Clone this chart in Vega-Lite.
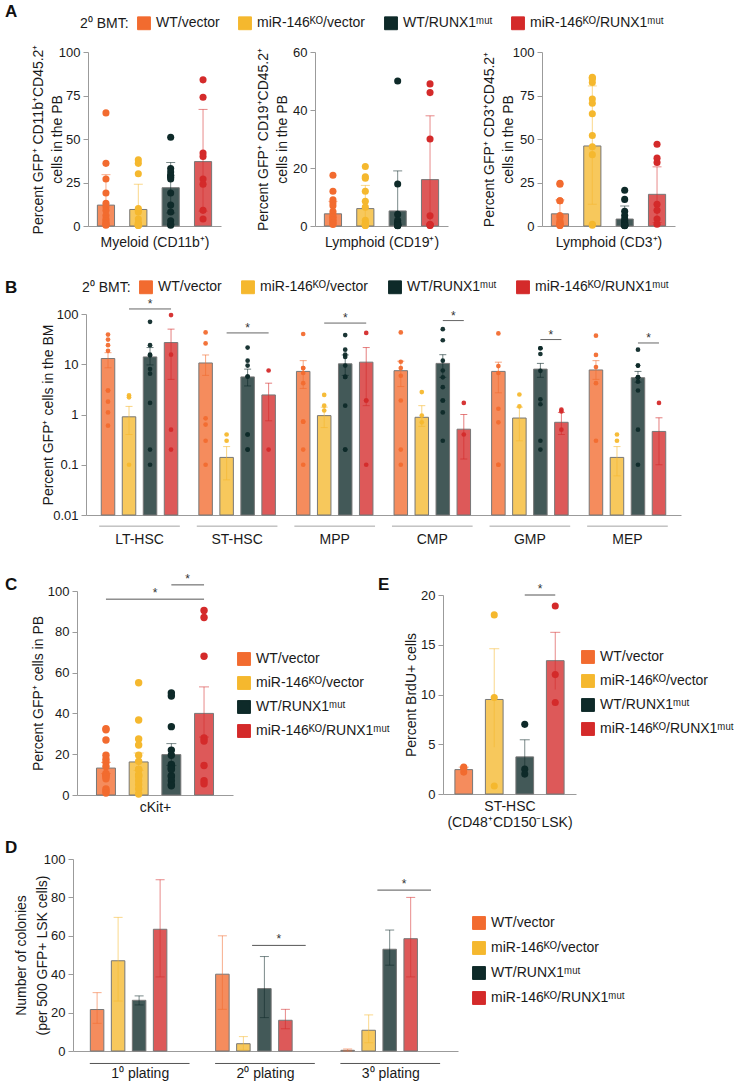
{
"$schema":"https://vega.github.io/schema/vega-lite/v6.json",
"background":"white",
"padding":{"left":5,"top":3,"right":5,"bottom":8},
"config":{
 "font":"Liberation Sans",
 "view":{"stroke":null},
 "axis":{"domainColor":"#9b9b9b","tickColor":"#9b9b9b","labelColor":"#1a1a1a","titleColor":"#1a1a1a","labelFontSize":13,"titleFontSize":14,"titleFontWeight":"normal","grid":false,"tickSize":5,"labelPadding":3,"titleLineHeight":19},
 "legend":{"labelFontSize":14,"labelColor":"#1a1a1a","titleFontSize":14,"titleColor":"#1a1a1a","titleFontWeight":"normal","symbolType":"square","symbolSize":165,"symbolStrokeColor":"#707070","symbolStrokeWidth":1,"symbolOpacity":1,"padding":0,"labelOffset":5,"rowPadding":7},
 "title":{"fontSize":17,"fontWeight":"bold","anchor":"start","frame":"group","color":"#111111"}
},
"datasets":{
 "aBars":[
  {"p":"M","g":"WV","m":12,"lo":0,"hi":29.5},{"p":"M","g":"KV","m":9.5,"lo":0,"hi":24},{"p":"M","g":"WR","m":22,"lo":7.5,"hi":36.5},{"p":"M","g":"KR","m":37,"lo":8.5,"hi":67},
  {"p":"B","g":"WV","m":4.2,"lo":0,"hi":8.5},{"p":"B","g":"KV","m":6,"lo":0,"hi":14},{"p":"B","g":"WR","m":5.2,"lo":0,"hi":19},{"p":"B","g":"KR","m":16,"lo":0,"hi":38},
  {"p":"T","g":"WV","m":7,"lo":0,"hi":15},{"p":"T","g":"KV","m":46,"lo":12.5,"hi":80.5},{"p":"T","g":"WR","m":4,"lo":0,"hi":11.5},{"p":"T","g":"KR","m":18.2,"lo":2,"hi":34}
 ],
 "aPts":[
  {"p":"M","g":"WV","v":65},{"p":"M","g":"WV","v":36},{"p":"M","g":"WV","v":27},{"p":"M","g":"WV","v":19},{"p":"M","g":"WV","v":13},{"p":"M","g":"WV","v":11},{"p":"M","g":"WV","v":9},{"p":"M","g":"WV","v":6},{"p":"M","g":"WV","v":4},{"p":"M","g":"WV","v":3},{"p":"M","g":"WV","v":2},{"p":"M","g":"WV","v":1},{"p":"M","g":"WV","v":1},{"p":"M","g":"WV","v":0.5},
  {"p":"M","g":"KV","v":38},{"p":"M","g":"KV","v":36},{"p":"M","g":"KV","v":30},{"p":"M","g":"KV","v":10},{"p":"M","g":"KV","v":9},{"p":"M","g":"KV","v":8},{"p":"M","g":"KV","v":4},{"p":"M","g":"KV","v":2},{"p":"M","g":"KV","v":1},{"p":"M","g":"KV","v":1},{"p":"M","g":"KV","v":0.5},{"p":"M","g":"KV","v":0.5},{"p":"M","g":"KV","v":0.3},
  {"p":"M","g":"WR","v":51},{"p":"M","g":"WR","v":33},{"p":"M","g":"WR","v":31},{"p":"M","g":"WR","v":29},{"p":"M","g":"WR","v":29},{"p":"M","g":"WR","v":28},{"p":"M","g":"WR","v":27},{"p":"M","g":"WR","v":19},{"p":"M","g":"WR","v":12},{"p":"M","g":"WR","v":8},{"p":"M","g":"WR","v":3},{"p":"M","g":"WR","v":1},{"p":"M","g":"WR","v":0.5},
  {"p":"M","g":"KR","v":84},{"p":"M","g":"KR","v":74},{"p":"M","g":"KR","v":42},{"p":"M","g":"KR","v":40},{"p":"M","g":"KR","v":27},{"p":"M","g":"KR","v":24},{"p":"M","g":"KR","v":9},{"p":"M","g":"KR","v":4},
  {"p":"B","g":"WV","v":17.5},{"p":"B","g":"WV","v":12},{"p":"B","g":"WV","v":9},{"p":"B","g":"WV","v":8},{"p":"B","g":"WV","v":7},{"p":"B","g":"WV","v":5},{"p":"B","g":"WV","v":4},{"p":"B","g":"WV","v":3},{"p":"B","g":"WV","v":3},{"p":"B","g":"WV","v":2},{"p":"B","g":"WV","v":2},{"p":"B","g":"WV","v":1},{"p":"B","g":"WV","v":1},{"p":"B","g":"WV","v":0.5},
  {"p":"B","g":"KV","v":20.5},{"p":"B","g":"KV","v":17},{"p":"B","g":"KV","v":16.5},{"p":"B","g":"KV","v":12},{"p":"B","g":"KV","v":8.5},{"p":"B","g":"KV","v":6.5},{"p":"B","g":"KV","v":2},{"p":"B","g":"KV","v":1},{"p":"B","g":"KV","v":0.5},{"p":"B","g":"KV","v":0.5},{"p":"B","g":"KV","v":0.3},{"p":"B","g":"KV","v":0.3},{"p":"B","g":"KV","v":0.2},
  {"p":"B","g":"WR","v":50},{"p":"B","g":"WR","v":14.5},{"p":"B","g":"WR","v":4},{"p":"B","g":"WR","v":2},{"p":"B","g":"WR","v":1},{"p":"B","g":"WR","v":1},{"p":"B","g":"WR","v":0.5},{"p":"B","g":"WR","v":0.5},{"p":"B","g":"WR","v":0.3},{"p":"B","g":"WR","v":0.2},{"p":"B","g":"WR","v":0.2},{"p":"B","g":"WR","v":0.1},
  {"p":"B","g":"KR","v":49},{"p":"B","g":"KR","v":46},{"p":"B","g":"KR","v":30},{"p":"B","g":"KR","v":3.5},{"p":"B","g":"KR","v":0.5},{"p":"B","g":"KR","v":0.5},{"p":"B","g":"KR","v":0.3},{"p":"B","g":"KR","v":0.2},
  {"p":"T","g":"WV","v":24.5},{"p":"T","g":"WV","v":24},{"p":"T","g":"WV","v":14.5},{"p":"T","g":"WV","v":14.5},{"p":"T","g":"WV","v":6},{"p":"T","g":"WV","v":5},{"p":"T","g":"WV","v":3},{"p":"T","g":"WV","v":2},{"p":"T","g":"WV","v":1.5},{"p":"T","g":"WV","v":1},{"p":"T","g":"WV","v":0.5},{"p":"T","g":"WV","v":0.5},{"p":"T","g":"WV","v":0.3},
  {"p":"T","g":"KV","v":85.5},{"p":"T","g":"KV","v":85},{"p":"T","g":"KV","v":84.5},{"p":"T","g":"KV","v":82.5},{"p":"T","g":"KV","v":73},{"p":"T","g":"KV","v":70.5},{"p":"T","g":"KV","v":64.5},{"p":"T","g":"KV","v":52},{"p":"T","g":"KV","v":45.5},{"p":"T","g":"KV","v":41},{"p":"T","g":"KV","v":1},{"p":"T","g":"KV","v":0.5},
  {"p":"T","g":"WR","v":20.5},{"p":"T","g":"WR","v":15.3},{"p":"T","g":"WR","v":8.5},{"p":"T","g":"WR","v":6},{"p":"T","g":"WR","v":4},{"p":"T","g":"WR","v":3},{"p":"T","g":"WR","v":2},{"p":"T","g":"WR","v":1.5},{"p":"T","g":"WR","v":1},{"p":"T","g":"WR","v":0.5},{"p":"T","g":"WR","v":0.5},{"p":"T","g":"WR","v":0.3},{"p":"T","g":"WR","v":0.2},
  {"p":"T","g":"KR","v":47},{"p":"T","g":"KR","v":39},{"p":"T","g":"KR","v":36.5},{"p":"T","g":"KR","v":12.5},{"p":"T","g":"KR","v":9},{"p":"T","g":"KR","v":4},{"p":"T","g":"KR","v":1}
 ],
 "bBars":[
  {"c":"LT-HSC","g":"WV","m":13,"lo":8.5,"hi":17},{"c":"LT-HSC","g":"KV","m":0.9,"lo":0.4,"hi":1.45},{"c":"LT-HSC","g":"WR","m":14,"lo":9.7,"hi":21.5},{"c":"LT-HSC","g":"KR","m":27,"lo":5,"hi":50},
  {"c":"ST-HSC","g":"WV","m":10.6,"lo":6,"hi":15.3},{"c":"ST-HSC","g":"KV","m":0.14,"lo":0.05,"hi":0.23},{"c":"ST-HSC","g":"WR","m":5.6,"lo":3.7,"hi":8},{"c":"ST-HSC","g":"KR","m":2.45,"lo":0.75,"hi":4.2},
  {"c":"MPP","g":"WV","m":7.2,"lo":3.3,"hi":11.8},{"c":"MPP","g":"KV","m":0.95,"lo":0.55,"hi":1.4},{"c":"MPP","g":"WR","m":10.2,"lo":6,"hi":15.3},{"c":"MPP","g":"KR","m":11,"lo":1.5,"hi":21.5},
  {"c":"CMP","g":"WV","m":7.45,"lo":3.6,"hi":11.5},{"c":"CMP","g":"KV","m":0.88,"lo":0.58,"hi":1.5},{"c":"CMP","g":"WR","m":10.4,"lo":5.5,"hi":15.5},{"c":"CMP","g":"KR","m":0.51,"lo":0.13,"hi":1.0},
  {"c":"GMP","g":"WV","m":7.2,"lo":2.7,"hi":11},{"c":"GMP","g":"KV","m":0.85,"lo":0.3,"hi":1.4},{"c":"GMP","g":"WR","m":8,"lo":5.5,"hi":10.4},{"c":"GMP","g":"KR","m":0.7,"lo":0.4,"hi":1.1},
  {"c":"MEP","g":"WV","m":7.7,"lo":5,"hi":11.8},{"c":"MEP","g":"KV","m":0.14,"lo":0.06,"hi":0.23},{"c":"MEP","g":"WR","m":5.4,"lo":4.4,"hi":7.2},{"c":"MEP","g":"KR","m":0.46,"lo":0.1,"hi":0.86}
 ],
 "bPts":[
  {"c":"LT-HSC","g":"WV","v":39},{"c":"LT-HSC","g":"WV","v":31},{"c":"LT-HSC","g":"WV","v":24},{"c":"LT-HSC","g":"WV","v":18.5},{"c":"LT-HSC","g":"WV","v":3},{"c":"LT-HSC","g":"WV","v":3},{"c":"LT-HSC","g":"WV","v":1.8},{"c":"LT-HSC","g":"WV","v":1.1},{"c":"LT-HSC","g":"WV","v":0.6},
  {"c":"LT-HSC","g":"KV","v":2.4},{"c":"LT-HSC","g":"KV","v":2.2},{"c":"LT-HSC","g":"KV","v":0.1},
  {"c":"LT-HSC","g":"WR","v":70},{"c":"LT-HSC","g":"WR","v":24},{"c":"LT-HSC","g":"WR","v":15.5},{"c":"LT-HSC","g":"WR","v":15},{"c":"LT-HSC","g":"WR","v":8},{"c":"LT-HSC","g":"WR","v":6.5},{"c":"LT-HSC","g":"WR","v":1.7},{"c":"LT-HSC","g":"WR","v":0.2},{"c":"LT-HSC","g":"WR","v":0.1},
  {"c":"LT-HSC","g":"KR","v":95},{"c":"LT-HSC","g":"KR","v":15.5},{"c":"LT-HSC","g":"KR","v":0.5},{"c":"LT-HSC","g":"KR","v":0.2},
  {"c":"ST-HSC","g":"WV","v":43},{"c":"ST-HSC","g":"WV","v":26},{"c":"ST-HSC","g":"WV","v":0.84},{"c":"ST-HSC","g":"WV","v":0.63},{"c":"ST-HSC","g":"WV","v":0.3},{"c":"ST-HSC","g":"WV","v":0.1},
  {"c":"ST-HSC","g":"KV","v":0.4},{"c":"ST-HSC","g":"KV","v":0.3},
  {"c":"ST-HSC","g":"WR","v":21.5},{"c":"ST-HSC","g":"WR","v":11.8},{"c":"ST-HSC","g":"WR","v":9.4},{"c":"ST-HSC","g":"WR","v":5.7},{"c":"ST-HSC","g":"WR","v":5.7},{"c":"ST-HSC","g":"WR","v":0.4},{"c":"ST-HSC","g":"WR","v":0.4},{"c":"ST-HSC","g":"WR","v":0.2},{"c":"ST-HSC","g":"WR","v":0.2},
  {"c":"ST-HSC","g":"KR","v":7.5},{"c":"ST-HSC","g":"KR","v":0.2},
  {"c":"MPP","g":"WV","v":40},{"c":"MPP","g":"WV","v":8.4},{"c":"MPP","g":"WV","v":8.4},{"c":"MPP","g":"WV","v":6.7},{"c":"MPP","g":"WV","v":4.2},{"c":"MPP","g":"WV","v":0.72},{"c":"MPP","g":"WV","v":0.72},{"c":"MPP","g":"WV","v":0.2},{"c":"MPP","g":"WV","v":0.1},
  {"c":"MPP","g":"KV","v":2.45},{"c":"MPP","g":"KV","v":1.5},{"c":"MPP","g":"KV","v":1.2},
  {"c":"MPP","g":"WR","v":38},{"c":"MPP","g":"WR","v":19.5},{"c":"MPP","g":"WR","v":15.5},{"c":"MPP","g":"WR","v":14},{"c":"MPP","g":"WR","v":9.4},{"c":"MPP","g":"WR","v":5.6},{"c":"MPP","g":"WR","v":5.6},{"c":"MPP","g":"WR","v":1.5},{"c":"MPP","g":"WR","v":0.2},{"c":"MPP","g":"WR","v":0.2},
  {"c":"MPP","g":"KR","v":42},{"c":"MPP","g":"KR","v":1.9},{"c":"MPP","g":"KR","v":1.9},{"c":"MPP","g":"KR","v":0.1},
  {"c":"CMP","g":"WV","v":43},{"c":"CMP","g":"WV","v":11.2},{"c":"CMP","g":"WV","v":8.4},{"c":"CMP","g":"WV","v":5.9},{"c":"CMP","g":"WV","v":1.9},{"c":"CMP","g":"WV","v":0.2},{"c":"CMP","g":"WV","v":0.1},
  {"c":"CMP","g":"KV","v":2.8},{"c":"CMP","g":"KV","v":0.95},{"c":"CMP","g":"KV","v":0.7},
  {"c":"CMP","g":"WR","v":50},{"c":"CMP","g":"WR","v":30},{"c":"CMP","g":"WR","v":11.8},{"c":"CMP","g":"WR","v":7.5},{"c":"CMP","g":"WR","v":5.5},{"c":"CMP","g":"WR","v":3.5},{"c":"CMP","g":"WR","v":1.9},{"c":"CMP","g":"WR","v":1.9},{"c":"CMP","g":"WR","v":1.1},{"c":"CMP","g":"WR","v":0.3},
  {"c":"CMP","g":"KR","v":1.7},{"c":"CMP","g":"KR","v":0.4},
  {"c":"GMP","g":"WV","v":41},{"c":"GMP","g":"WV","v":9.2},{"c":"GMP","g":"WV","v":6.7},{"c":"GMP","g":"WV","v":1.3},{"c":"GMP","g":"WV","v":0.7},{"c":"GMP","g":"WV","v":0.1},{"c":"GMP","g":"WV","v":0.1},
  {"c":"GMP","g":"KV","v":2.5},{"c":"GMP","g":"KV","v":1.45},
  {"c":"GMP","g":"WR","v":20.8},{"c":"GMP","g":"WR","v":20.8},{"c":"GMP","g":"WR","v":16},{"c":"GMP","g":"WR","v":7.4},{"c":"GMP","g":"WR","v":2},{"c":"GMP","g":"WR","v":1.6},{"c":"GMP","g":"WR","v":0.3},{"c":"GMP","g":"WR","v":0.2},
  {"c":"GMP","g":"KR","v":1.25},{"c":"GMP","g":"KR","v":1.15},{"c":"GMP","g":"KR","v":0.5},
  {"c":"MEP","g":"WV","v":37},{"c":"MEP","g":"WV","v":15.3},{"c":"MEP","g":"WV","v":8.8},{"c":"MEP","g":"WV","v":4.2},{"c":"MEP","g":"WV","v":0.3},
  {"c":"MEP","g":"KV","v":0.4},{"c":"MEP","g":"KV","v":0.3},
  {"c":"MEP","g":"WR","v":19.5},{"c":"MEP","g":"WR","v":9.4},{"c":"MEP","g":"WR","v":9.4},{"c":"MEP","g":"WR","v":5.5},{"c":"MEP","g":"WR","v":5.5},{"c":"MEP","g":"WR","v":5.5},{"c":"MEP","g":"WR","v":4.5},{"c":"MEP","g":"WR","v":3},{"c":"MEP","g":"WR","v":0.5},{"c":"MEP","g":"WR","v":0.1},
  {"c":"MEP","g":"KR","v":1.7}
 ],
 "bSig":[
  {"c":"LT-HSC","t":"KV","v":126},{"c":"ST-HSC","t":"KV","v":42},{"c":"MPP","t":"KV","v":66},
  {"c":"CMP","t":"WR","v":74},{"c":"GMP","t":"WR","v":31},{"c":"MEP","t":"WR","v":26.5}
 ],
 "cBars":[
  {"g":"WV","m":13.2,"lo":10.5,"hi":16},{"g":"KV","m":16.2,"lo":12,"hi":20.6},{"g":"WR","m":19.8,"lo":14.5,"hi":25.2},{"g":"KR","m":40,"lo":28.4,"hi":53}
 ],
 "cPts":[
  {"g":"WV","v":32.5},{"g":"WV","v":32},{"g":"WV","v":27},{"g":"WV","v":19.5},{"g":"WV","v":17.5},{"g":"WV","v":16},{"g":"WV","v":14},{"g":"WV","v":10.5},{"g":"WV","v":10},{"g":"WV","v":9.5},{"g":"WV","v":9},{"g":"WV","v":8},{"g":"WV","v":3},{"g":"WV","v":2},{"g":"WV","v":1},
  {"g":"KV","v":55},{"g":"KV","v":36.8},{"g":"KV","v":27.5},{"g":"KV","v":24.5},{"g":"KV","v":19.5},{"g":"KV","v":16.5},{"g":"KV","v":12.5},{"g":"KV","v":12.5},{"g":"KV","v":10},{"g":"KV","v":9.5},{"g":"KV","v":9},{"g":"KV","v":7},{"g":"KV","v":5},{"g":"KV","v":3},{"g":"KV","v":0.5},
  {"g":"WR","v":50},{"g":"WR","v":48.5},{"g":"WR","v":33.5},{"g":"WR","v":22},{"g":"WR","v":19.5},{"g":"WR","v":15},{"g":"WR","v":14},{"g":"WR","v":13},{"g":"WR","v":12.5},{"g":"WR","v":9.5},{"g":"WR","v":9},{"g":"WR","v":7},{"g":"WR","v":5},{"g":"WR","v":4.5},
  {"g":"KR","v":90.5},{"g":"KR","v":87},{"g":"KR","v":68},{"g":"KR","v":28},{"g":"KR","v":26.5},{"g":"KR","v":14.5},{"g":"KR","v":7},{"g":"KR","v":5.5}
 ],
 "cSig":[{"a":"WV","b":"KR","v":96},{"a":"WR","b":"KR","v":103}],
 "eBars":[
  {"g":"WV","m":2.45,"lo":2.2,"hi":2.7},{"g":"KV","m":9.5,"lo":4.7,"hi":14.6},{"g":"WR","m":3.73,"lo":2,"hi":5.45},{"g":"KR","m":13.4,"lo":10.5,"hi":16.25}
 ],
 "ePts":[
  {"g":"WV","v":2.2},{"g":"WV","v":2.7},{"g":"WV","v":2.6},
  {"g":"KV","v":18},{"g":"KV","v":9.7},{"g":"KV","v":0.8},
  {"g":"WR","v":7},{"g":"WR","v":2.5},{"g":"WR","v":2},
  {"g":"KR","v":18.9},{"g":"KR","v":12},{"g":"KR","v":9.2}
 ],
 "eSig":[{"a":"WR","b":"KR","v":20}],
 "dBars":[
  {"pl":"1⁰ plating","g":"WV","m":21.6,"lo":14.4,"hi":30.4},{"pl":"1⁰ plating","g":"KV","m":47,"lo":26,"hi":69.6},{"pl":"1⁰ plating","g":"WR","m":26.4,"lo":24,"hi":28.7},{"pl":"1⁰ plating","g":"KR","m":63.4,"lo":38.6,"hi":89.2},
  {"pl":"2⁰ plating","g":"WV","m":40,"lo":21.7,"hi":60},{"pl":"2⁰ plating","g":"KV","m":3.8,"lo":0.5,"hi":7.5},{"pl":"2⁰ plating","g":"WR","m":32.5,"lo":17.4,"hi":49.2},{"pl":"2⁰ plating","g":"KR","m":16,"lo":11.6,"hi":21.7},
  {"pl":"3⁰ plating","g":"WV","m":0.35,"lo":0,"hi":1},{"pl":"3⁰ plating","g":"KV","m":10.8,"lo":4.3,"hi":18.8},{"pl":"3⁰ plating","g":"WR","m":53,"lo":44.7,"hi":63},{"pl":"3⁰ plating","g":"KR","m":58.5,"lo":38.6,"hi":80}
 ],
 "dSig":[{"pl":"2⁰ plating","v":55},{"pl":"3⁰ plating","v":83.8}],
 "none":[]
},
"columns":3,
"align":{"row":"each","column":"none"},
"bounds":"flush",
"spacing":{"row":30,"column":94},
"resolve":{"scale":{"color":"independent","x":"independent","y":"independent"},"legend":{"color":"independent"}},
"concat":[
   {
    "width":133,"height":174,
    "title":{"text":"A","dx":-83,"dy":9},
    "layer":[
     {"data":{"name":"aBars"},"transform":[{"filter":"datum.p=='M'"}],
      "mark":{"type":"bar","fillOpacity":0.78,"stroke":"#777777","strokeWidth":1},
      "encoding":{
       "x":{"field":"g","type":"nominal","scale":{"domain":["WV","KV","WR","KR"],"paddingInner":0.47,"paddingOuter":0.29},"axis":{"labels":false,"ticks":false,"title":"Myeloid (CD11b⁺)","titlePadding":9}},
       "y":{"field":"m","type":"quantitative","scale":{"domain":[0,100]},"axis":{"values":[0,25,50,75,100],"title":["Percent GFP⁺ CD11b⁺CD45.2⁺","cells in the PB"],"titleX":-43}},
       "color":{"field":"g","type":"nominal","scale":{"domain":["WV","KV","WR","KR"],"range":["#F26B2F","#F5B82E","#0E2A29","#D42A2A"]},
        "legend":{"orient":"none","direction":"horizontal","legendX":-8,"legendY":-36,"title":"2⁰ BMT:","titleOrient":"left","titlePadding":8,"columnPadding":16,
         "labelExpr":"datum.label=='WV'?'WT/vector':datum.label=='KV'?'miR-146ᴷᴼ/vector':datum.label=='WR'?'WT/RUNX1ᵐᵘᵗ':'miR-146ᴷᴼ/RUNX1ᵐᵘᵗ'"}}
      }},
     {"data":{"name":"aBars"},"transform":[{"filter":"datum.p=='M'"}],"mark":{"type":"rule","strokeWidth":1,"opacity":0.55},
      "encoding":{"x":{"field":"g","type":"nominal"},"y":{"field":"lo","type":"quantitative"},"y2":{"field":"hi"},"color":{"field":"g","type":"nominal"}}},
     {"data":{"name":"aBars"},"transform":[{"filter":"datum.p=='M'"}],"mark":{"type":"tick","thickness":1,"size":9,"opacity":0.55},
      "encoding":{"x":{"field":"g","type":"nominal"},"y":{"field":"hi","type":"quantitative"},"color":{"field":"g","type":"nominal"}}},
     {"data":{"name":"aBars"},"transform":[{"filter":"datum.p=='M'"}],"mark":{"type":"tick","thickness":1,"size":9,"opacity":0.55},
      "encoding":{"x":{"field":"g","type":"nominal"},"y":{"field":"lo","type":"quantitative"},"color":{"field":"g","type":"nominal"}}},
     {"data":{"name":"aPts"},"transform":[{"filter":"datum.p=='M'"}],"mark":{"type":"circle","size":50,"opacity":1},
      "encoding":{"x":{"field":"g","type":"nominal"},"y":{"field":"v","type":"quantitative"},"color":{"field":"g","type":"nominal"}}}
    ]
   },
   {
    "width":133,"height":174,
    "layer":[
     {"data":{"name":"aBars"},"transform":[{"filter":"datum.p=='B'"}],
      "mark":{"type":"bar","fillOpacity":0.78,"stroke":"#777777","strokeWidth":1},
      "encoding":{
       "x":{"field":"g","type":"nominal","scale":{"domain":["WV","KV","WR","KR"],"paddingInner":0.47,"paddingOuter":0.29},"axis":{"labels":false,"ticks":false,"title":"Lymphoid (CD19⁺)","titlePadding":9}},
       "y":{"field":"m","type":"quantitative","scale":{"domain":[0,60]},"axis":{"values":[0,20,40,60],"title":["Percent GFP⁺ CD19⁺CD45.2⁺","cells in the PB"],"titleX":-45}},
       "color":{"field":"g","type":"nominal","scale":{"domain":["WV","KV","WR","KR"],"range":["#F26B2F","#F5B82E","#0E2A29","#D42A2A"]},"legend":null}
      }},
     {"data":{"name":"aBars"},"transform":[{"filter":"datum.p=='B'"}],"mark":{"type":"rule","strokeWidth":1,"opacity":0.55},
      "encoding":{"x":{"field":"g","type":"nominal"},"y":{"field":"lo","type":"quantitative"},"y2":{"field":"hi"},"color":{"field":"g","type":"nominal","legend":null}}},
     {"data":{"name":"aBars"},"transform":[{"filter":"datum.p=='B'"}],"mark":{"type":"tick","thickness":1,"size":9,"opacity":0.55},
      "encoding":{"x":{"field":"g","type":"nominal"},"y":{"field":"hi","type":"quantitative"},"color":{"field":"g","type":"nominal","legend":null}}},
     {"data":{"name":"aPts"},"transform":[{"filter":"datum.p=='B'"}],"mark":{"type":"circle","size":50,"opacity":1},
      "encoding":{"x":{"field":"g","type":"nominal"},"y":{"field":"v","type":"quantitative"},"color":{"field":"g","type":"nominal","legend":null}}}
    ]
   },
   {
    "width":133,"height":174,
    "layer":[
     {"data":{"name":"aBars"},"transform":[{"filter":"datum.p=='T'"}],
      "mark":{"type":"bar","fillOpacity":0.78,"stroke":"#777777","strokeWidth":1},
      "encoding":{
       "x":{"field":"g","type":"nominal","scale":{"domain":["WV","KV","WR","KR"],"paddingInner":0.47,"paddingOuter":0.29},"axis":{"labels":false,"ticks":false,"title":"Lymphoid (CD3⁺)","titlePadding":9}},
       "y":{"field":"m","type":"quantitative","scale":{"domain":[0,100]},"axis":{"values":[0,25,50,75,100],"title":["Percent GFP⁺ CD3⁺CD45.2⁺","cells in the PB"],"titleX":-46}},
       "color":{"field":"g","type":"nominal","scale":{"domain":["WV","KV","WR","KR"],"range":["#F26B2F","#F5B82E","#0E2A29","#D42A2A"]},"legend":null}
      }},
     {"data":{"name":"aBars"},"transform":[{"filter":"datum.p=='T'"}],"mark":{"type":"rule","strokeWidth":1,"opacity":0.55},
      "encoding":{"x":{"field":"g","type":"nominal"},"y":{"field":"lo","type":"quantitative"},"y2":{"field":"hi"},"color":{"field":"g","type":"nominal","legend":null}}},
     {"data":{"name":"aBars"},"transform":[{"filter":"datum.p=='T'"}],"mark":{"type":"tick","thickness":1,"size":9,"opacity":0.55},
      "encoding":{"x":{"field":"g","type":"nominal"},"y":{"field":"hi","type":"quantitative"},"color":{"field":"g","type":"nominal","legend":null}}},
     {"data":{"name":"aBars"},"transform":[{"filter":"datum.p=='T'"}],"mark":{"type":"tick","thickness":1,"size":9,"opacity":0.55},
      "encoding":{"x":{"field":"g","type":"nominal"},"y":{"field":"lo","type":"quantitative"},"color":{"field":"g","type":"nominal","legend":null}}},
     {"data":{"name":"aPts"},"transform":[{"filter":"datum.p=='T'"}],"mark":{"type":"circle","size":50,"opacity":1},
      "encoding":{"x":{"field":"g","type":"nominal"},"y":{"field":"v","type":"quantitative"},"color":{"field":"g","type":"nominal","legend":null}}}
    ]
   },
 {
  "width":133,"height":259,
  "title":{"text":"B","dx":-83,"dy":45},
  "layer":[
   {"data":{"name":"bBars"},
    "mark":{"type":"bar","fillOpacity":0.78,"stroke":"#777777","strokeWidth":1},
    "encoding":{
     "x":{"field":"c","type":"nominal","scale":{"domain":["LT-HSC","ST-HSC","MPP","CMP","GMP","MEP"],"range":[-2,593],"paddingInner":0.139,"paddingOuter":0.118},"axis":{"title":null,"ticks":false,"labelPadding":17,"labelFontSize":14,"labelAngle":0}},
     "xOffset":{"field":"g","scale":{"domain":["WV","KV","WR","KR"],"paddingInner":0.357,"paddingOuter":0.1785}},
     "y":{"field":"m","type":"quantitative","scale":{"type":"log","domain":[0.01,100],"range":[259,58]},"axis":{"values":[0.01,0.1,1,10,100],"format":"~g","offset":2,"title":"Percent GFP⁺ cells in the BM","titleX":-31}},
     "y2":{"datum":0.01},
     "color":{"field":"g","type":"nominal","scale":{"domain":["WV","KV","WR","KR"],"range":["#F26B2F","#F5B82E","#0E2A29","#D42A2A"]},
      "legend":{"orient":"none","direction":"horizontal","legendX":-6,"legendY":24,"title":"2⁰ BMT:","titleOrient":"left","titlePadding":8,"columnPadding":17,
       "labelExpr":"datum.label=='WV'?'WT/vector':datum.label=='KV'?'miR-146ᴷᴼ/vector':datum.label=='WR'?'WT/RUNX1ᵐᵘᵗ':'miR-146ᴷᴼ/RUNX1ᵐᵘᵗ'"}}
    }},
   {"data":{"name":"bBars"},"mark":{"type":"rule","strokeWidth":1,"opacity":0.6},
    "encoding":{"x":{"field":"c","type":"nominal"},"xOffset":{"field":"g"},"y":{"field":"lo","type":"quantitative"},"y2":{"field":"hi"},"color":{"field":"g","type":"nominal"}}},
   {"data":{"name":"bBars"},"mark":{"type":"tick","thickness":1,"size":7,"opacity":0.6},
    "encoding":{"x":{"field":"c","type":"nominal"},"xOffset":{"field":"g"},"y":{"field":"hi","type":"quantitative"},"color":{"field":"g","type":"nominal"}}},
   {"data":{"name":"bBars"},"mark":{"type":"tick","thickness":1,"size":7,"opacity":0.6},
    "encoding":{"x":{"field":"c","type":"nominal"},"xOffset":{"field":"g"},"y":{"field":"lo","type":"quantitative"},"color":{"field":"g","type":"nominal"}}},
   {"data":{"name":"bPts"},"mark":{"type":"circle","size":22,"opacity":0.95},
    "encoding":{"x":{"field":"c","type":"nominal"},"xOffset":{"field":"g"},"y":{"field":"v","type":"quantitative"},"color":{"field":"g","type":"nominal"}}},
   {"data":{"name":"bBars"},"transform":[{"filter":"datum.g=='WV'"}],"mark":{"type":"rule","color":"#a3a3a3","strokeWidth":1},
    "encoding":{"x":{"field":"c","type":"nominal","bandPosition":0.02},"x2":{"field":"c","bandPosition":0.98},"y":{"datum":0.006}}},
   {"data":{"name":"bSig"},"transform":[{"filter":"datum.t=='KV'"}],"mark":{"type":"rule","color":"#666666","strokeWidth":1},
    "encoding":{"x":{"field":"c","type":"nominal","bandPosition":0.375},"x2":{"field":"c","bandPosition":0.875},"y":{"field":"v","type":"quantitative"}}},
   {"data":{"name":"bSig"},"transform":[{"filter":"datum.t=='KV'"}],"mark":{"type":"text","text":"*","fontSize":12,"dy":-5,"color":"#333333"},
    "encoding":{"x":{"field":"c","type":"nominal","bandPosition":0.625},"y":{"field":"v","type":"quantitative"}}},
   {"data":{"name":"bSig"},"transform":[{"filter":"datum.t=='WR'"}],"mark":{"type":"rule","color":"#666666","strokeWidth":1},
    "encoding":{"x":{"field":"c","type":"nominal","bandPosition":0.625},"x2":{"field":"c","bandPosition":0.875},"y":{"field":"v","type":"quantitative"}}},
   {"data":{"name":"bSig"},"transform":[{"filter":"datum.t=='WR'"}],"mark":{"type":"text","text":"*","fontSize":12,"dy":-5,"color":"#333333"},
    "encoding":{"x":{"field":"c","type":"nominal","bandPosition":0.75},"y":{"field":"v","type":"quantitative"}}}
  ]
 },
 {"width":1,"height":1,"data":{"name":"none"},"mark":{"type":"point","opacity":0},"encoding":{}},
 {"width":1,"height":1,"data":{"name":"none"},"mark":{"type":"point","opacity":0},"encoding":{}},
   {
    "width":133,"height":250,
    "title":{"text":"C","dx":-83,"dy":53},
    "layer":[
     {"data":{"name":"cBars"},
      "mark":{"type":"bar","fillOpacity":0.78,"stroke":"#777777","strokeWidth":1},
      "encoding":{
       "x":{"field":"g","type":"nominal","scale":{"domain":["WV","KV","WR","KR"],"range":[-11,145],"paddingInner":0.42,"paddingOuter":0.596},"axis":{"labels":false,"ticks":false,"title":"cKit+","titlePadding":5}},
       "y":{"field":"m","type":"quantitative","scale":{"domain":[0,100],"range":[250,46]},"axis":{"values":[0,20,40,60,80,100],"offset":11,"title":"Percent GFP⁺ cells in PB","titleX":-32}},
       "color":{"field":"g","type":"nominal","scale":{"domain":["WV","KV","WR","KR"],"range":["#F26B2F","#F5B82E","#0E2A29","#D42A2A"]},
        "legend":{"orient":"none","direction":"vertical","legendX":149,"legendY":107,"title":null,"rowPadding":6,
         "labelExpr":"datum.label=='WV'?'WT/vector':datum.label=='KV'?'miR-146ᴷᴼ/vector':datum.label=='WR'?'WT/RUNX1ᵐᵘᵗ':'miR-146ᴷᴼ/RUNX1ᵐᵘᵗ'"}}
      }},
     {"data":{"name":"cBars"},"mark":{"type":"rule","strokeWidth":1,"opacity":0.55},
      "encoding":{"x":{"field":"g","type":"nominal"},"y":{"field":"lo","type":"quantitative"},"y2":{"field":"hi"},"color":{"field":"g","type":"nominal"}}},
     {"data":{"name":"cBars"},"mark":{"type":"tick","thickness":1,"size":10,"opacity":0.55},
      "encoding":{"x":{"field":"g","type":"nominal"},"y":{"field":"hi","type":"quantitative"},"color":{"field":"g","type":"nominal"}}},
     {"data":{"name":"cBars"},"mark":{"type":"tick","thickness":1,"size":10,"opacity":0.55},
      "encoding":{"x":{"field":"g","type":"nominal"},"y":{"field":"lo","type":"quantitative"},"color":{"field":"g","type":"nominal"}}},
     {"data":{"name":"cPts"},"mark":{"type":"circle","size":55,"opacity":1},
      "encoding":{"x":{"field":"g","type":"nominal"},"y":{"field":"v","type":"quantitative"},"color":{"field":"g","type":"nominal"}}},
     {"data":{"name":"cSig"},"mark":{"type":"rule","color":"#555555","strokeWidth":1},
      "encoding":{"x":{"field":"a","type":"nominal","bandPosition":0.5},"x2":{"field":"b","bandPosition":0.5},"y":{"field":"v","type":"quantitative"}}},
     {"data":{"name":"cSig"},"transform":[{"filter":"datum.a=='WV'"}],"mark":{"type":"text","text":"*","fontSize":12,"dy":-6,"color":"#333333"},
      "encoding":{"x":{"field":"a","type":"nominal","bandPosition":3.086},"y":{"field":"v","type":"quantitative"}}},
     {"data":{"name":"cSig"},"transform":[{"filter":"datum.a=='WR'"}],"mark":{"type":"text","text":"*","fontSize":12,"dy":-6,"color":"#333333"},
      "encoding":{"x":{"field":"a","type":"nominal","bandPosition":1.362},"y":{"field":"v","type":"quantitative"}}}
    ]
   },
   {
    "width":133,"height":249,
    "title":{"text":"E","dx":63,"dy":53},
    "layer":[
     {"data":{"name":"eBars"},
      "mark":{"type":"bar","fillOpacity":0.78,"stroke":"#777777","strokeWidth":1},
      "encoding":{
       "x":{"field":"g","type":"nominal","scale":{"domain":["WV","KV","WR","KR"],"range":[128,261],"paddingInner":0.42,"paddingOuter":0.39},"axis":{"labels":false,"ticks":false,"title":["ST-HSC","(CD48⁺CD150⁻LSK)"],"titlePadding":5,"titleLineHeight":16}},
       "y":{"field":"m","type":"quantitative","scale":{"domain":[0,20],"range":[249,50]},"axis":{"values":[0,5,10,15,20],"offset":-128,"title":"Percent BrdU+ cells","titleX":-25}},
       "color":{"field":"g","type":"nominal","scale":{"domain":["WV","KV","WR","KR"],"range":["#F26B2F","#F5B82E","#0E2A29","#D42A2A"]},
        "legend":{"orient":"none","direction":"vertical","legendX":266,"legendY":105,"title":null,"rowPadding":6,
         "labelExpr":"datum.label=='WV'?'WT/vector':datum.label=='KV'?'miR-146ᴷᴼ/vector':datum.label=='WR'?'WT/RUNX1ᵐᵘᵗ':'miR-146ᴷᴼ/RUNX1ᵐᵘᵗ'"}}
      }},
     {"data":{"name":"eBars"},"mark":{"type":"rule","strokeWidth":1,"opacity":0.55},
      "encoding":{"x":{"field":"g","type":"nominal"},"y":{"field":"lo","type":"quantitative"},"y2":{"field":"hi"},"color":{"field":"g","type":"nominal"}}},
     {"data":{"name":"eBars"},"mark":{"type":"tick","thickness":1,"size":10,"opacity":0.55},
      "encoding":{"x":{"field":"g","type":"nominal"},"y":{"field":"hi","type":"quantitative"},"color":{"field":"g","type":"nominal"}}},
     {"data":{"name":"ePts"},"mark":{"type":"circle","size":50,"opacity":1},
      "encoding":{"x":{"field":"g","type":"nominal"},"y":{"field":"v","type":"quantitative"},"color":{"field":"g","type":"nominal"}}},
     {"data":{"name":"eSig"},"mark":{"type":"rule","color":"#555555","strokeWidth":1},
      "encoding":{"x":{"field":"a","type":"nominal","bandPosition":0.5},"x2":{"field":"b","bandPosition":0.5},"y":{"field":"v","type":"quantitative"}}},
     {"data":{"name":"eSig"},"mark":{"type":"text","text":"*","fontSize":12,"dy":-6,"color":"#333333"},
      "encoding":{"x":{"field":"a","type":"nominal","bandPosition":1.362},"y":{"field":"v","type":"quantitative"}}}
    ]
   },
 {"width":1,"height":1,"data":{"name":"none"},"mark":{"type":"point","opacity":0},"encoding":{}},
 {
  "width":133,"height":226,
  "title":{"text":"D","dx":-83,"dy":36},
  "layer":[
   {"data":{"name":"dBars"},
    "mark":{"type":"bar","fillOpacity":0.78,"stroke":"#777777","strokeWidth":1},
    "encoding":{
     "x":{"field":"pl","type":"nominal","scale":{"domain":["1⁰ plating","2⁰ plating","3⁰ plating"],"range":[-15,370],"paddingInner":0.144,"paddingOuter":0.1085},"axis":{"title":null,"ticks":false,"labelPadding":15,"labelFontSize":14,"labelAngle":0}},
     "xOffset":{"field":"g","scale":{"domain":["WV","KV","WR","KR"],"paddingInner":0.46,"paddingOuter":0.23}},
     "y":{"field":"m","type":"quantitative","scale":{"domain":[0,100],"range":[226,34]},"axis":{"values":[0,20,40,60,80,100],"offset":15,"title":["Number of colonies","(per 500 GFP+ LSK cells)"],"titleX":-45,"titleLineHeight":21}},
     "color":{"field":"g","type":"nominal","scale":{"domain":["WV","KV","WR","KR"],"range":["#F26B2F","#F5B82E","#0E2A29","#D42A2A"]},
      "legend":{"orient":"none","direction":"vertical","legendX":384,"legendY":91,"title":null,
       "labelExpr":"datum.label=='WV'?'WT/vector':datum.label=='KV'?'miR-146ᴷᴼ/vector':datum.label=='WR'?'WT/RUNX1ᵐᵘᵗ':'miR-146ᴷᴼ/RUNX1ᵐᵘᵗ'"}}
    }},
   {"data":{"name":"dBars"},"mark":{"type":"rule","strokeWidth":1,"opacity":0.55},
    "encoding":{"x":{"field":"pl","type":"nominal"},"xOffset":{"field":"g"},"y":{"field":"lo","type":"quantitative"},"y2":{"field":"hi"},"color":{"field":"g","type":"nominal"}}},
   {"data":{"name":"dBars"},"mark":{"type":"tick","thickness":1,"size":9,"opacity":0.55},
    "encoding":{"x":{"field":"pl","type":"nominal"},"xOffset":{"field":"g"},"y":{"field":"hi","type":"quantitative"},"color":{"field":"g","type":"nominal"}}},
   {"data":{"name":"dBars"},"mark":{"type":"tick","thickness":1,"size":9,"opacity":0.55},
    "encoding":{"x":{"field":"pl","type":"nominal"},"xOffset":{"field":"g"},"y":{"field":"lo","type":"quantitative"},"color":{"field":"g","type":"nominal"}}},
   {"data":{"name":"dBars"},"transform":[{"filter":"datum.g=='WV'"}],"mark":{"type":"rule","color":"#555555","strokeWidth":1},
    "encoding":{"x":{"field":"pl","type":"nominal","bandPosition":0.03},"x2":{"field":"pl","bandPosition":0.96},"y":{"datum":-6.5}}},
   {"data":{"name":"dSig"},"mark":{"type":"rule","color":"#555555","strokeWidth":1},
    "encoding":{"x":{"field":"pl","type":"nominal","bandPosition":0.375},"x2":{"field":"pl","bandPosition":0.875},"y":{"field":"v","type":"quantitative"}}},
   {"data":{"name":"dSig"},"mark":{"type":"text","text":"*","fontSize":12,"dy":-6,"color":"#333333"},
    "encoding":{"x":{"field":"pl","type":"nominal","bandPosition":0.625},"y":{"field":"v","type":"quantitative"}}}
  ]
 }
]
}
